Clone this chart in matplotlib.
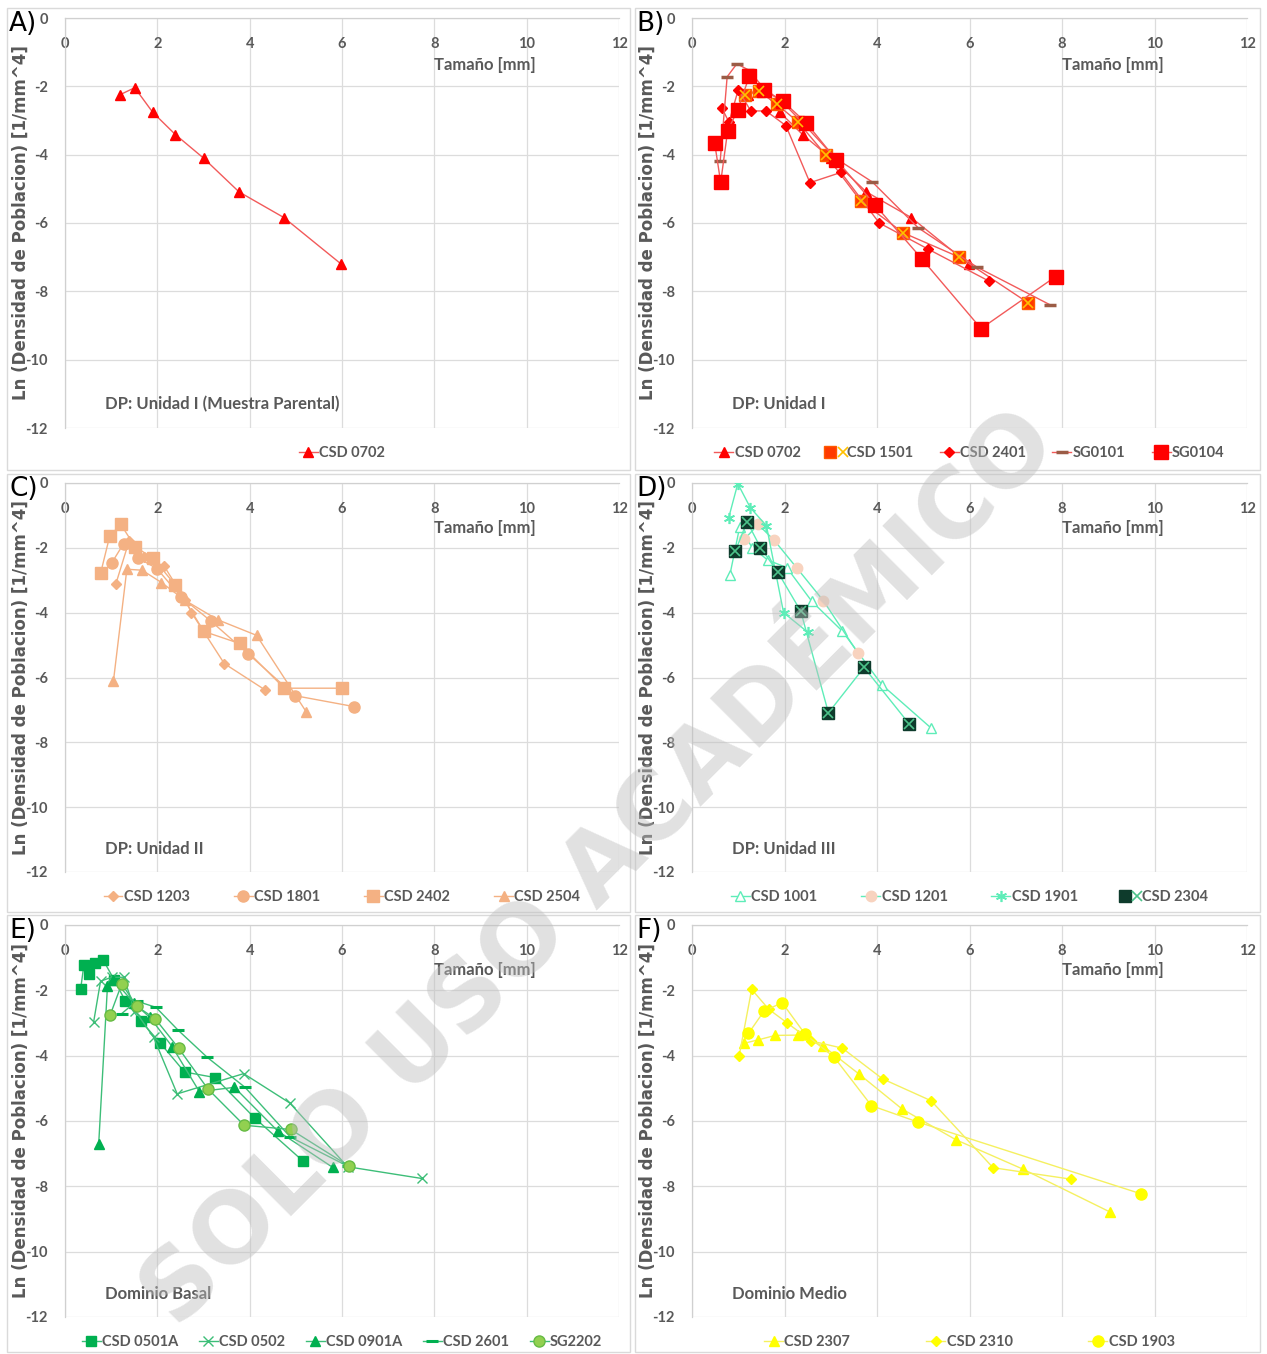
import matplotlib
matplotlib.use("Agg")
import matplotlib.pyplot as plt
from matplotlib.patches import Rectangle
from matplotlib.legend_handler import HandlerTuple

plt.rcParams['font.family'] = ['Lato', 'DejaVu Sans']
plt.rcParams['axes.unicode_minus'] = False

# ---------------- data ----------------
A_0702_x = [1.20, 1.51, 1.90, 2.39, 3.00, 3.77, 4.74, 5.98]
A_0702_y = [-2.24, -2.04, -2.76, -3.41, -4.10, -5.09, -5.84, -7.20]

B_0702_x = A_0702_x
B_0702_y = A_0702_y
B_1501_x = [1.15, 1.45, 1.83, 2.29, 2.90, 3.65, 4.57, 5.78, 7.26]
B_1501_y = [-2.25, -2.15, -2.52, -3.04, -4.02, -5.36, -6.29, -7.00, -8.33]
B_2401_x = [0.64, 0.80, 1.00, 1.27, 1.60, 2.03, 2.55, 3.22, 4.05, 5.10, 6.42]
B_2401_y = [-2.62, -3.05, -2.10, -2.72, -2.72, -3.15, -4.82, -4.52, -6.00, -6.76, -7.70]
B_SG0101_x = [0.61, 0.76, 0.97, 1.22, 1.55, 1.95, 2.45, 3.10, 3.90, 4.89, 6.16, 7.75]
B_SG0101_y = [-4.18, -1.72, -1.34, -1.52, -2.05, -2.45, -3.15, -4.10, -4.80, -6.14, -7.29, -8.40]
B_SG0104_x = [0.49, 0.62, 0.77, 0.99, 1.24, 1.55, 1.96, 2.47, 3.12, 3.95, 4.97, 6.25, 7.86]
B_SG0104_y = [-3.66, -4.81, -3.31, -2.68, -1.70, -2.12, -2.43, -3.07, -4.15, -5.46, -7.05, -9.09, -7.57]

C_1203_x = [1.10, 1.39, 1.72, 2.15, 2.60, 2.74, 3.45, 4.33]
C_1203_y = [-3.12, -1.78, -2.28, -2.57, -3.60, -4.00, -5.57, -6.38]
C_1801_x = [1.01, 1.27, 1.58, 1.99, 2.52, 3.16, 3.96, 4.98, 6.27]
C_1801_y = [-2.47, -1.87, -2.31, -2.64, -3.52, -4.26, -5.26, -6.56, -6.90]
C_2402_x = [0.77, 0.97, 1.21, 1.52, 1.91, 2.39, 3.01, 3.78, 4.75, 6.00]
C_2402_y = [-2.79, -1.63, -1.28, -1.97, -2.32, -3.15, -4.58, -4.95, -6.33, -6.33]
C_2504_x = [1.05, 1.34, 1.67, 2.09, 2.60, 3.31, 4.15, 5.23]
C_2504_y = [-6.10, -2.66, -2.69, -3.07, -3.62, -4.22, -4.70, -7.07]

D_1001_x = [0.82, 1.03, 1.30, 1.64, 2.05, 2.59, 3.25, 4.11, 5.17]
D_1001_y = [-2.83, -1.36, -1.99, -2.38, -2.61, -3.65, -4.57, -6.23, -7.56]
D_1201_x = [1.13, 1.43, 1.78, 2.26, 2.84, 3.58]
D_1201_y = [-1.74, -1.28, -1.77, -2.61, -3.63, -5.23]
D_1901_x = [0.79, 0.99, 1.26, 1.61, 1.98, 2.51]
D_1901_y = [-1.09, -0.02, -0.76, -1.32, -4.00, -4.61]
D_2304_x = [0.94, 1.19, 1.48, 1.86, 2.35, 2.95, 3.72, 4.69]
D_2304_y = [-2.09, -1.19, -1.99, -2.76, -3.95, -7.09, -5.69, -7.42]

E_0501A_x = [0.34, 0.41, 0.53, 0.65, 0.83, 1.07, 1.31, 1.64, 2.06, 2.59, 3.25, 4.11, 5.15]
E_0501A_y = [-1.95, -1.21, -1.49, -1.16, -1.08, -1.69, -2.33, -2.93, -3.61, -4.50, -4.67, -5.91, -7.22]
E_0502_x = [0.62, 0.77, 1.01, 1.27, 1.52, 1.92, 2.43, 3.87, 4.87, 6.12, 7.73]
E_0502_y = [-2.97, -1.72, -1.60, -1.60, -2.63, -3.44, -5.17, -4.55, -5.45, -7.40, -7.76]
E_0901A_x = [0.73, 0.92, 1.05, 1.50, 1.84, 2.32, 2.91, 3.67, 4.61, 5.80]
E_0901A_y = [-6.70, -1.87, -1.67, -2.40, -2.83, -3.72, -5.10, -4.97, -6.31, -7.42]
E_2601_x = [1.23, 1.55, 1.97, 2.45, 3.08, 3.90, 4.88, 6.12]
E_2601_y = [-2.71, -2.33, -2.52, -3.22, -4.05, -4.97, -6.49, -7.38]
E_SG2202_x = [0.98, 1.23, 1.55, 1.96, 2.46, 3.09, 3.88, 4.89, 6.15]
E_SG2202_y = [-2.75, -1.80, -2.48, -2.88, -3.77, -5.01, -6.13, -6.26, -7.38]

F_2307_x = [1.13, 1.42, 1.80, 2.29, 2.84, 3.60, 4.54, 5.70, 7.15, 9.03]
F_2307_y = [-3.62, -3.52, -3.38, -3.37, -3.71, -4.55, -5.63, -6.57, -7.47, -8.78]
F_2310_x = [1.02, 1.29, 1.66, 2.06, 2.58, 3.25, 4.12, 5.17, 6.51, 8.19]
F_2310_y = [-4.00, -1.97, -2.58, -3.00, -3.55, -3.77, -4.71, -5.38, -7.43, -7.78]
F_1903_x = [1.22, 1.56, 1.95, 2.45, 3.07, 3.88, 4.88, 9.71]
F_1903_y = [-3.32, -2.63, -2.38, -3.35, -4.04, -5.53, -6.03, -8.23]

panel_letters = ["A)", "B)", "C)", "D)", "E)", "F)"]
panel_notes = ["DP: Unidad I (Muestra Parental)", "DP: Unidad I", "DP: Unidad II",
               "DP: Unidad III", "Dominio Basal", "Dominio Medio"]
x_ticks = [0, 2, 4, 6, 8, 10, 12]
y_ticks = [0, -2, -4, -6, -8, -10, -12]
x_title = "Tamaño [mm]"
y_title = "Ln (Densidad de Poblacion) [1/mm^4]"
watermark = "SOLO USO ACADÉMICO"

# ---------------- styles ----------------
RED = '#FF0000'
REDL = '#F25A5A'
PEACH = '#F4B183'
MINT = '#5EEDB8'
GREEN = '#00B050'
GREENL = '#3DBE78'
YEL = '#FFFF00'
YELL = '#F5F060'
GRAY = '#595959'

W, H = 1267, 1354
fig = plt.figure(figsize=(W / 100, H / 100), dpi=100)

def fx(px):
    return px / W

def fy(py):
    return 1 - py / H

cols = [(65, 619), (692, 1247)]
rows = [(18, 428), (483, 872), (925, 1317)]
boxes_x = [(7, 630), (635, 1260)]
boxes_y = [(8, 470), (474, 912), (915, 1352)]

for (bx0, bx1) in boxes_x:
    for (by0, by1) in boxes_y:
        fig.patches.append(Rectangle((fx(bx0), fy(by1)), fx(bx1) - fx(bx0), fy(by0) - fy(by1),
                                     transform=fig.transFigure, fill=False,
                                     edgecolor='#DADADA', lw=1.0, zorder=0))

axes = []
for r, (py0, py1) in enumerate(rows):
    for c, (px0, px1) in enumerate(cols):
        ax = fig.add_axes([fx(px0), fy(py1), fx(px1) - fx(px0), fy(py0) - fy(py1)])
        axes.append(ax)

def style_axis(ax, idx):
    ax.set_xlim(0, 12)
    ax.set_ylim(-12, 0)
    ax.set_xticks(x_ticks)
    ax.set_yticks(y_ticks)
    ax.grid(True, color='#DCDCDC', lw=0.9)
    ax.set_axisbelow(True)
    for s in ['right', 'bottom']:
        ax.spines[s].set_visible(False)
    for s in ['left', 'top']:
        ax.spines[s].set_color('#D0D0D0')
        ax.spines[s].set_linewidth(0.9)
    ax.tick_params(axis='x', top=False, bottom=False, labeltop=True, labelbottom=False,
                   pad=-27, labelsize=10.5, labelcolor=GRAY)
    ax.tick_params(axis='y', left=False, pad=9, labelsize=10.5, labelcolor=GRAY)
    for lbl in ax.get_xticklabels() + ax.get_yticklabels():
        lbl.set_fontweight('bold')
    ax.set_ylabel(y_title, fontsize=12, fontweight='bold', color=GRAY,
                  family='DejaVu Sans', labelpad=-3)
    ax.text(0.758, 0.885, x_title, transform=ax.transAxes, ha='center', va='center',
            fontsize=12, fontweight='bold', color=GRAY)
    ax.text(0.072, 0.058, panel_notes[idx], transform=ax.transAxes, ha='left', va='center',
            fontsize=12, fontweight='bold', color=GRAY)
    ax.text(-0.101, 0.985, panel_letters[idx], transform=ax.transAxes, ha='left', va='center',
            fontsize=19, color='black', family='DejaVu Sans')

def series(ax, x, y, lc, marker, ms, mfc, mec, mew=1.0, lw=1.0):
    ln, = ax.plot(x, y, color=lc, lw=lw, marker=marker, ms=ms, mfc=mfc, mec=mec,
                  mew=mew, zorder=3)
    return ln

def overlay(ax, x, y, marker, ms, color, mew=1.0):
    ln, = ax.plot(x, y, ls='none', marker=marker, ms=ms, mfc='none', mec=color, mew=mew, zorder=4)
    return ln

def legend(ax, handles, labels, colspacing):
    ax.legend(handles, labels, loc='upper center', bbox_to_anchor=(0.5, -0.012), ncol=len(labels),
              frameon=False, handlelength=1.3, handletextpad=0.1, columnspacing=colspacing,
              prop={'family': 'Lato', 'weight': 'bold', 'size': 10.5}, labelcolor=GRAY,
              handler_map={tuple: HandlerTuple(ndivide=None)})

for i, ax in enumerate(axes):
    style_axis(ax, i)

# A
ax = axes[0]
h = series(ax, A_0702_x, A_0702_y, REDL, '^', 7, RED, RED)
legend(ax, [h], ["CSD 0702"], 2)

# B
ax = axes[1]
h1 = series(ax, B_0702_x, B_0702_y, REDL, '^', 7, RED, RED)
h2a = series(ax, B_1501_x, B_1501_y, REDL, 's', 8.5, '#FF3A00', '#FF5A00')
h2b = overlay(ax, B_1501_x, B_1501_y, 'x', 6.5, '#FFC000', 1.2)
h3 = series(ax, B_2401_x, B_2401_y, REDL, 'D', 5.5, RED, RED)
h4 = series(ax, B_SG0101_x, B_SG0101_y, REDL, '_', 9, '#9B5C46', '#9B5C46', mew=2.5)
h5 = series(ax, B_SG0104_x, B_SG0104_y, REDL, 's', 9.5, RED, RED)
legend(ax, [h1, (h2a, h2b), h3, h4, h5], ["CSD 0702", "CSD 1501", "CSD 2401", "SG0101", "SG0104"], 1.8)

# C
ax = axes[2]
h1 = series(ax, C_1203_x, C_1203_y, PEACH, 'D', 5, PEACH, PEACH)
h2 = series(ax, C_1801_x, C_1801_y, PEACH, 'o', 8, PEACH, PEACH)
h3 = series(ax, C_2402_x, C_2402_y, PEACH, 's', 8, PEACH, PEACH)
h4 = series(ax, C_2504_x, C_2504_y, PEACH, '^', 6.5, PEACH, PEACH)
legend(ax, [h1, h2, h3, h4], ["CSD 1203", "CSD 1801", "CSD 2402", "CSD 2504"], 3.0)

# D
ax = axes[3]
h1 = series(ax, D_1001_x, D_1001_y, MINT, '^', 7, 'white', MINT)
h2 = series(ax, D_1201_x, D_1201_y, MINT, 'o', 7.5, '#F8D3BF', '#F8D3BF')
h3 = series(ax, D_1901_x, D_1901_y, MINT, (6, 2, 0), 8, MINT, MINT, mew=1.2)
h4a = series(ax, D_2304_x, D_2304_y, MINT, 's', 8.5, '#0E3B2C', '#0E3B2C')
h4b = overlay(ax, D_2304_x, D_2304_y, 'x', 6.5, '#4CC28A', 1.2)
legend(ax, [h1, h2, h3, (h4a, h4b)], ["CSD 1001", "CSD 1201", "CSD 1901", "CSD 2304"], 3.0)

# E
ax = axes[4]
h1 = series(ax, E_0501A_x, E_0501A_y, GREENL, 's', 7.5, GREEN, GREEN)
h2 = series(ax, E_0502_x, E_0502_y, GREENL, 'x', 7, GREENL, GREENL)
h3 = series(ax, E_0901A_x, E_0901A_y, GREENL, '^', 7, GREEN, GREEN)
h4 = series(ax, E_2601_x, E_2601_y, GREENL, '_', 8, GREEN, GREEN, mew=2.2)
h5 = series(ax, E_SG2202_x, E_SG2202_y, GREENL, 'o', 8, '#92D050', '#66BB44')
legend(ax, [h1, h2, h3, h4, h5], ["CSD 0501A", "CSD 0502", "CSD 0901A", "CSD 2601", "SG2202"], 1.4)

# F
ax = axes[5]
h1 = series(ax, F_2307_x, F_2307_y, YELL, '^', 7, YEL, YEL)
h2 = series(ax, F_2310_x, F_2310_y, YELL, 'D', 5.5, YEL, YEL)
h3 = series(ax, F_1903_x, F_1903_y, YELL, 'o', 8, YEL, YEL)
legend(ax, [h1, h2, h3], ["CSD 2307", "CSD 2310", "CSD 1903"], 5.2)

fig.text(fx(600), fy(870), watermark, rotation=45, ha='center', va='center',
         fontsize=70, fontweight='bold', family='DejaVu Sans', color='#BDBDBD', alpha=0.45,
         zorder=20)

fig.savefig("out.png", dpi=100)
